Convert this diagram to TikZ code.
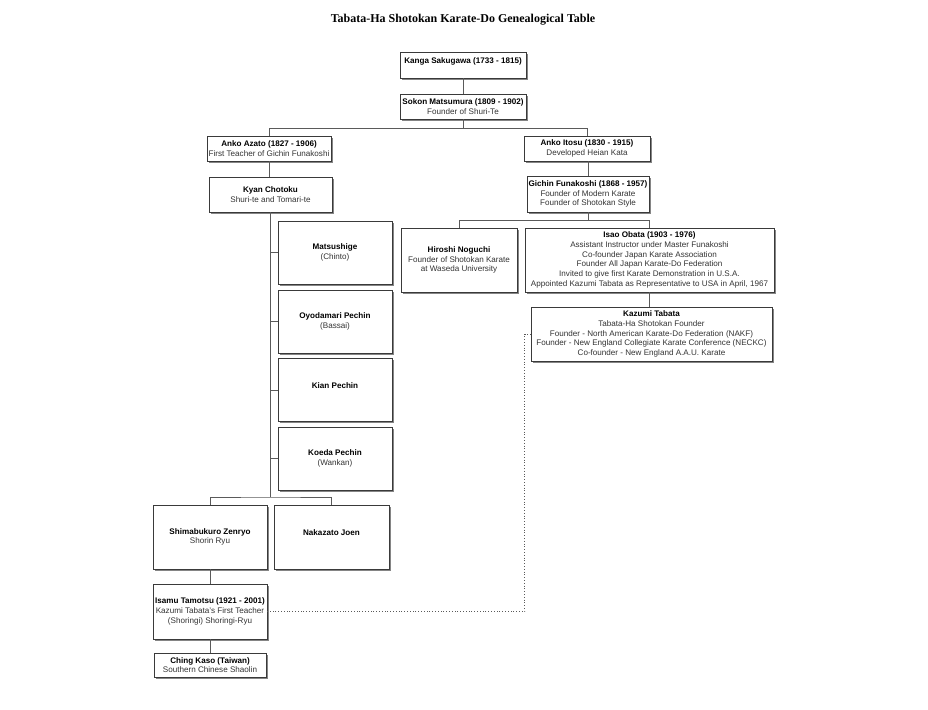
\documentclass[tikz,border=0pt]{standalone}
\usepackage{fontspec}
\setmainfont{Liberation Sans}
\newfontfamily\titlefont{Liberation Serif}
\usetikzlibrary{shadows}
\definecolor{boxline}{HTML}{3A3A3A}
\definecolor{linkgray}{HTML}{5A5A5A}
\definecolor{shadowgray}{HTML}{858585}
\definecolor{subtext}{HTML}{333333}
\newcommand\pname[1]{\textbf{\color{black}#1}}
\tikzset{
  box/.style={draw=boxline, line width=0.8pt, fill=white, inner sep=0pt, align=center,
    font=\fontsize{8.1}{9.7}\selectfont, text=subtext,
    drop shadow={shadow xshift=1.8pt, shadow yshift=-1.8pt, fill=shadowgray, opacity=1}},
  link/.style={draw=linkgray, line width=0.8pt},
  dotlink/.style={draw=linkgray, line width=0.8pt, dotted},
}
\begin{document}
\begin{tikzpicture}[x=1pt, y=-1pt]
\useasboundingbox[fill=white] (0,0) rectangle (928,709);
\node[font=\titlefont\bfseries\fontsize{12}{14}\selectfont] (title) at (463,19.5) {Tabata-Ha Shotokan Karate-Do Genealogical Table};

\node[box, minimum width=126pt, minimum height=26pt] (kanga) at (463,65) {\pname{Kanga Sakugawa (1733 - 1815)}\\\mbox{}};
\node[box, minimum width=126pt, minimum height=25pt] (sokon) at (463,106.5) {\pname{Sokon Matsumura (1809 - 1902)}\\Founder of Shuri-Te};
\node[box, minimum width=124pt, minimum height=25pt] (azato) at (269,148.5) {\pname{Anko Azato (1827 - 1906)}\\First Teacher of Gichin Funakoshi};
\node[box, minimum width=126pt, minimum height=25pt] (itosu) at (587,148.5) {\pname{Anko Itosu (1830 - 1915)}\\Developed Heian Kata};
\node[box, minimum width=123pt, minimum height=35pt] (kyan) at (270.5,194.5) {\pname{Kyan Chotoku}\\Shuri-te and Tomari-te};
\node[box, minimum width=122pt, minimum height=36pt] (gichin) at (588,194) {\pname{Gichin Funakoshi (1868 - 1957)}\\Founder of Modern Karate\\Founder of Shotokan Style};
\node[box, minimum width=116pt, minimum height=64pt] (noguchi) at (459,260) {\pname{Hiroshi Noguchi}\\Founder of Shotokan Karate\\at Waseda University};
\node[box, minimum width=249pt, minimum height=64pt] (obata) at (649.5,260) {\pname{Isao Obata (1903 - 1976)}\\Assistant Instructor under Master Funakoshi\\Co-founder Japan Karate Association\\Founder All Japan Karate-Do Federation\\Invited to give first Karate Demonstration in U.S.A.\\Appointed Kazumi Tabata as Representative to USA in April, 1967};
\node[box, minimum width=241pt, minimum height=54pt] (kazumi) at (651.5,334) {\pname{Kazumi Tabata}\\Tabata-Ha Shotokan Founder\\Founder - North American Karate-Do Federation (NAKF)\\Founder - New England Collegiate Karate Conference (NECKC)\\Co-founder - New England A.A.U. Karate};

\node[box, minimum width=114pt, minimum height=63pt] (matsushige) at (335,252.5) {\pname{Matsushige}\\(Chinto)};
\node[box, minimum width=114pt, minimum height=63pt] (oyodamari) at (335,321.5) {\pname{Oyodamari Pechin}\\(Bassai)};
\node[box, minimum width=114pt, minimum height=63pt] (kian) at (335,390) {\pname{Kian Pechin}\\\mbox{}};
\node[box, minimum width=114pt, minimum height=63pt] (koeda) at (335,458.5) {\pname{Koeda Pechin}\\(Wankan)};

\node[box, minimum width=114pt, minimum height=64pt] (shimabukuro) at (210,537) {\pname{Shimabukuro Zenryo}\\Shorin Ryu};
\node[box, minimum width=115pt, minimum height=64pt] (nakazato) at (331.5,537) {\pname{Nakazato Joen}\\\mbox{}};
\node[box, minimum width=114pt, minimum height=55pt] (isamu) at (210,611.5) {\pname{Isamu Tamotsu (1921 - 2001)}\\Kazumi Tabata's First Teacher\\(Shoringi) Shoringi-Ryu};
\node[box, minimum width=112pt, minimum height=24pt] (ching) at (210,665) {\pname{Ching Kaso (Taiwan)}\\Southern Chinese Shaolin};

% connectors
\draw[link] (kanga) -- (sokon);
\draw[link] (sokon.south) -- ++(0,8.5) coordinate (j1);
\draw[link] (azato.north) |- (j1) -| (itosu.north);
\draw[link] (itosu) -- (itosu.south -| gichin.north) -- (gichin.north);
\draw[link] (azato.south) -- (azato.south |- kyan.north);
\draw[link] (gichin.south) -- ++(0,8) coordinate (j2);
\draw[link] (noguchi.north) |- (j2) -| (obata.north);
\draw[link] (obata.south) -- (obata.south |- kazumi.north);
\coordinate (j3) at (270.5,497);
\draw[link] (kyan.south) -- (j3);
\draw[link] (kyan.south |- matsushige.west) -- (matsushige.west);
\draw[link] (kyan.south |- oyodamari.west) -- (oyodamari.west);
\draw[link] (kyan.south |- kian.west) -- (kian.west);
\draw[link] (kyan.south |- koeda.west) -- (koeda.west);
\draw[link] (shimabukuro.north) |- (j3) -| (nakazato.north);
\draw[link] (shimabukuro) -- (isamu);
\draw[link] (isamu) -- (ching);
\draw[dotlink] (kazumi.west) -- ++(-6,0) |- (isamu.east);
\end{tikzpicture}
\end{document}
